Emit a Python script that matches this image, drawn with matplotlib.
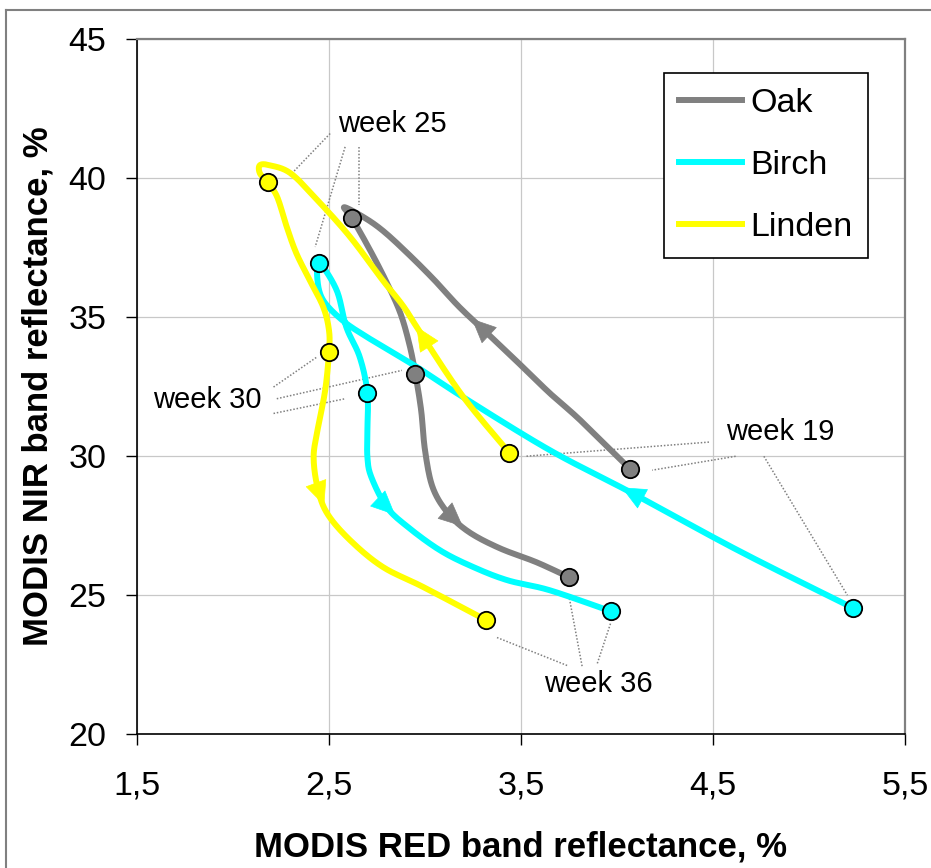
import numpy as np
import matplotlib
matplotlib.use('Agg')
import matplotlib.pyplot as plt
from matplotlib.lines import Line2D

plt.rcParams['font.family'] = ['Liberation Sans', 'DejaVu Sans']

# traced paths, week 19 -> week 36 (x = RED %, y = NIR %)
oak_x = [4.07, 3.81, 3.65, 3.50, 3.34, 3.18, 3.05, 2.92, 2.79, 2.69, 2.58, 2.62, 2.70,
         2.79, 2.87, 2.92, 2.95, 2.98, 3.00, 3.04, 3.12, 3.23, 3.39, 3.58, 3.75]
oak_y = [29.52, 31.28, 32.26, 33.26, 34.31, 35.35, 36.32, 37.22, 38.05, 38.55, 38.95, 38.55, 37.58,
         36.39, 35.17, 33.98, 32.94, 31.64, 30.21, 28.87, 27.94, 27.26, 26.68, 26.18, 25.64]

birch_x = [5.23, 4.64, 4.08, 3.65, 3.20, 2.96, 2.70, 2.57, 2.47, 2.44, 2.45, 2.54, 2.59,
           2.66, 2.70, 2.70, 2.70, 2.72, 2.80, 2.91, 3.08, 3.25, 3.43, 3.65, 3.97]
birch_y = [24.53, 26.57, 28.66, 30.21, 32.11, 33.19, 34.27, 34.88, 35.60, 36.32, 36.93, 35.96, 34.64,
           33.56, 32.28, 30.92, 29.96, 29.25, 28.17, 27.45, 26.60, 26.01, 25.53, 25.17, 24.41]

linden_x = [3.44, 3.20, 2.99, 2.89, 2.78, 2.61, 2.44, 2.30, 2.19, 2.14, 2.14, 2.18, 2.23, 2.28,
            2.33, 2.40, 2.47, 2.50, 2.50, 2.48, 2.44, 2.42, 2.44, 2.49, 2.61, 2.78, 2.99, 3.32]
linden_y = [30.11, 32.12, 34.28, 35.36, 36.32, 37.88, 39.20, 40.17, 40.46, 40.46, 40.17, 39.84, 39.32, 38.24,
            37.29, 36.32, 35.36, 34.52, 33.74, 32.36, 30.92, 29.96, 28.88, 27.94, 26.97, 26.01, 25.29, 24.09]

# which path points are the marked weeks 19, 25, 30, 36
oak_weeks = [0, 11, 16, 24]
birch_weeks = [0, 10, 14, 24]
linden_weeks = [0, 11, 18, 27]

# direction arrows: (segment index, fraction along segment)
oak_arrows = [(4, 0.6), (20, 0.7)]
birch_arrows = [(1, 1.1), (18, 0.4)]
linden_arrows = [(2, 0.35), (22, 0.7)]

species = ['Oak', 'Birch', 'Linden']
colors = ['#808080', '#00FFFF', '#FFFF00']

x_ticks = [1.5, 2.5, 3.5, 4.5, 5.5]
x_ticklabels = ['1,5', '2,5', '3,5', '4,5', '5,5']
y_ticks = [20, 25, 30, 35, 40, 45]

# week labels and their dotted leader lines
week_labels = ['week 25', 'week 30', 'week 19', 'week 36']
week_label_pos = [(2.548, 41.95), (1.585, 32.0), (4.566, 30.86), (3.618, 21.79)]
week_leaders = [
    [(2.506, 41.60, 2.289, 40.04), (2.584, 41.12, 2.428, 37.52), (2.654, 41.12, 2.654, 39.02)],
    [(2.211, 32.48, 2.437, 33.56), (2.228, 32.06, 2.880, 33.08), (2.211, 31.53, 2.584, 32.06)],
    [(4.479, 30.50, 3.523, 29.99), (4.618, 29.99, 4.183, 29.49), (4.765, 29.99, 5.200, 24.99)],
    [(3.375, 23.47, 3.749, 22.44), (3.749, 24.99, 3.819, 22.41), (3.966, 23.97, 3.897, 22.53)],
]


def smooth(xs, ys, steps=16):
    # Catmull-Rom curve through the points, like the spreadsheet "smoothed line"
    p = np.column_stack([xs, ys]).astype(float)
    p = np.vstack([p[0], p, p[-1]])
    t = np.linspace(0, 1, steps, endpoint=False)[:, None]
    out = []
    for i in range(1, len(p) - 2):
        p0, p1, p2, p3 = p[i - 1], p[i], p[i + 1], p[i + 2]
        seg = 0.5 * (2 * p1 + (-p0 + p2) * t + (2 * p0 - 5 * p1 + 4 * p2 - p3) * t ** 2
                     + (-p0 + 3 * p1 - 3 * p2 + p3) * t ** 3)
        out.append(seg)
    out.append(p[-2][None, :])
    pts = np.vstack(out)
    return pts[:, 0], pts[:, 1]


fig = plt.figure(figsize=(9.31, 8.68), dpi=100)
ax = fig.add_axes([137 / 931, 1 - 734 / 868, (905 - 137) / 931, (734 - 39) / 868])

series = [(oak_x, oak_y, oak_weeks, oak_arrows),
          (birch_x, birch_y, birch_weeks, birch_arrows),
          (linden_x, linden_y, linden_weeks, linden_arrows)]

for k, (xs, ys, weeks, arrows) in enumerate(series):
    sx, sy = smooth(xs, ys)
    ax.plot(sx, sy, color=colors[k], lw=4.3, solid_capstyle='round', solid_joinstyle='round',
            zorder=3 + k)
    for i, f in arrows:
        x0, y0 = xs[i], ys[i]
        tip = (x0 + f * (xs[i + 1] - x0), y0 + f * (ys[i + 1] - y0))
        ax.annotate('', xy=tip, xytext=(x0, y0),
                    arrowprops=dict(arrowstyle='-|>,head_length=1.1,head_width=0.5',
                                    color=colors[k], lw=0.5, mutation_scale=15,
                                    shrinkA=0, shrinkB=0),
                    zorder=3 + k)

for k, (xs, ys, weeks, arrows) in enumerate(series):
    ax.plot([xs[i] for i in weeks], [ys[i] for i in weeks], 'o', ms=12.5, mfc=colors[k],
            mec='black', mew=1.3, zorder=10)

for text, (tx, ty), leaders in zip(week_labels, week_label_pos, week_leaders):
    ax.text(tx, ty, text, fontsize=21, ha='left', va='center', zorder=2)
    for x0, y0, x1, y1 in leaders:
        ax.plot([x0, x1], [y0, y1], color='#808080', lw=1.1, ls=(0, (1, 1.2)), zorder=2)

ax.set_xlim(1.5, 5.5)
ax.set_ylim(20, 45)
ax.set_xticks(x_ticks)
ax.set_xticklabels(x_ticklabels)
ax.set_yticks(y_ticks)
ax.grid(True, color='#C8C8C8', lw=0.9)
ax.set_axisbelow(True)
ax.tick_params(direction='out', length=8, width=1, labelsize=24.5, colors='black')
ax.tick_params(axis='x', pad=18)
ax.tick_params(axis='y', pad=14)

for side in ['left', 'bottom']:
    ax.spines[side].set_color('black')
    ax.spines[side].set_linewidth(1.2)
for side in ['top', 'right']:
    ax.spines[side].set_color('#808080')
    ax.spines[side].set_linewidth(1.6)

ax.set_xlabel('MODIS RED band reflectance, %', fontsize=25, fontweight='bold', labelpad=21)
ax.set_ylabel('MODIS NIR band reflectance, %', fontsize=25, fontweight='bold', labelpad=10)

handles = [Line2D([0], [0], color=c, lw=4.3) for c in colors]
leg = ax.legend(handles, species, loc='upper right', bbox_to_anchor=(0.952, 0.951),
                fontsize=24.5, frameon=True, fancybox=False, edgecolor='black', framealpha=1,
                handlelength=1.85, handletextpad=0.25, labelspacing=0.9, borderpad=0.45,
                borderaxespad=0)
leg.get_frame().set_linewidth(1.2)

# outer chart border (left and top edges visible)
fig.add_artist(Line2D([6 / 931, 6 / 931], [0, 1 - 9.5 / 868], transform=fig.transFigure,
                      color='#808080', lw=1.5))
fig.add_artist(Line2D([6 / 931, 1], [1 - 9.5 / 868, 1 - 9.5 / 868], transform=fig.transFigure,
                      color='#808080', lw=1.5))

fig.savefig('out.png', dpi=100)
